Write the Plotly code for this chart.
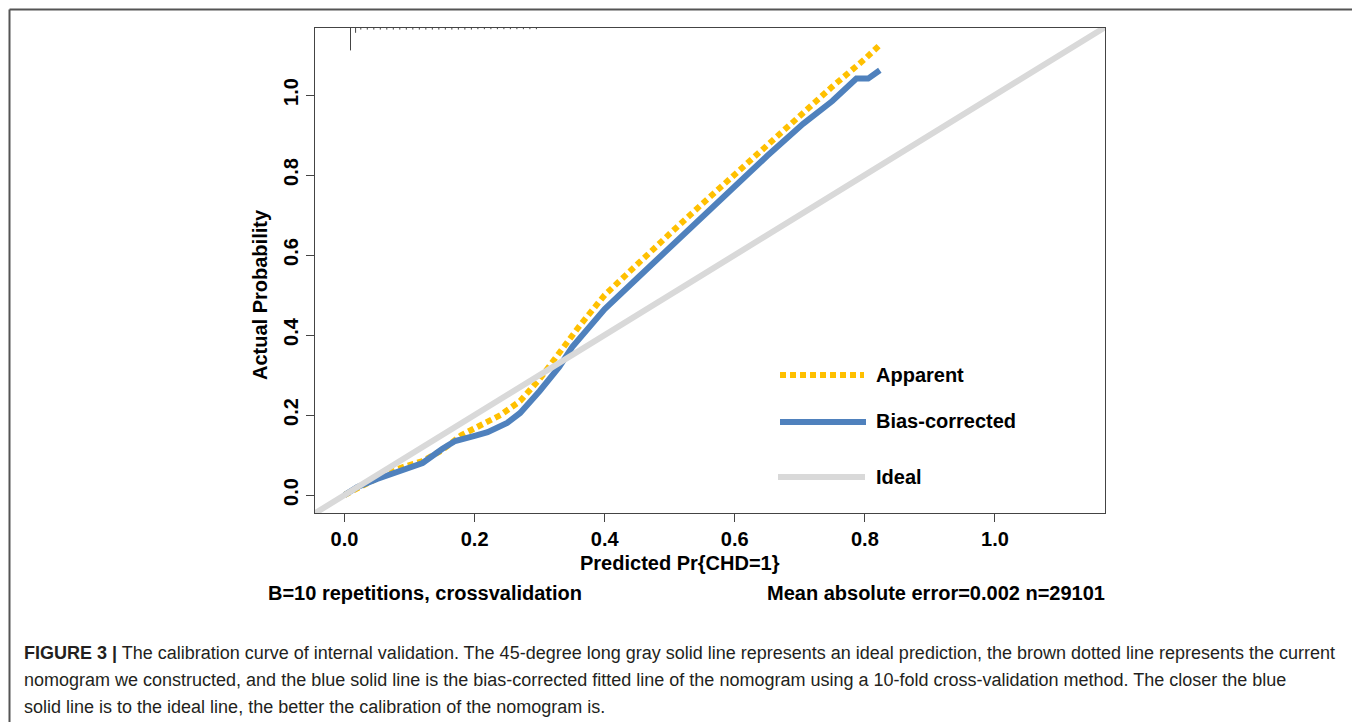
import plotly.graph_objects as go

# ---- data ----
apparent_x = [0.0, 0.03, 0.06, 0.09, 0.12, 0.15, 0.18, 0.21, 0.24, 0.27, 0.30, 0.33, 0.36,
              0.40, 0.45, 0.50, 0.55, 0.60, 0.65, 0.70, 0.75, 0.80, 0.823]
apparent_y = [0.0, 0.025, 0.05, 0.07, 0.085, 0.112, 0.15, 0.175, 0.2, 0.235, 0.29, 0.355, 0.42,
              0.5, 0.578, 0.653, 0.728, 0.802, 0.876, 0.95, 1.021, 1.09, 1.125]

bias_x = [0.0, 0.02, 0.05, 0.08, 0.10, 0.12, 0.15, 0.17, 0.20, 0.22, 0.25, 0.27, 0.30, 0.33,
          0.35, 0.40, 0.45, 0.50, 0.55, 0.60, 0.65, 0.705, 0.72, 0.75, 0.787, 0.805, 0.823]
bias_y = [0.0, 0.02, 0.04, 0.058, 0.068, 0.08, 0.115, 0.135, 0.148, 0.157, 0.18, 0.205, 0.26,
          0.32, 0.37, 0.465, 0.542, 0.619, 0.695, 0.772, 0.848, 0.928, 0.946, 0.985, 1.041, 1.041, 1.062]

ideal_x = [-0.1, 1.3]
ideal_y = [-0.1, 1.3]

# histogram of predicted values (rug at top): positions and tick lengths
rug_x = [0.0092, 0.017, 0.025, 0.035, 0.045, 0.055, 0.065, 0.075, 0.085, 0.095, 0.105,
         0.115, 0.125, 0.135, 0.145, 0.155, 0.165, 0.175, 0.185, 0.195, 0.205, 0.215,
         0.225, 0.235, 0.245, 0.255, 0.265, 0.275, 0.285, 0.295]
rug_h = [0.056, 0.012, 0.004, 0.004, 0.004, 0.004, 0.004, 0.004, 0.004, 0.004, 0.004,
         0.004, 0.004, 0.004, 0.004, 0.004, 0.004, 0.004, 0.004, 0.004, 0.003, 0.003,
         0.003, 0.003, 0.003, 0.003, 0.003, 0.003, 0.003, 0.003]

x_ticks = [0.0, 0.2, 0.4, 0.6, 0.8, 1.0]
y_ticks = [0.0, 0.2, 0.4, 0.6, 0.8, 1.0]
tick_labels = ["0.0", "0.2", "0.4", "0.6", "0.8", "1.0"]

legend_names = ["Apparent", "Bias-corrected", "Ideal"]

X_RANGE = [-0.0454, 1.1692]
Y_RANGE = [-0.045, 1.1675]

ORANGE = "#FFC000"
BLUE = "#4F81BD"
GRAY = "#D9D9D9"
W, H = 1360, 722
OFF = 8  # page body margin
FONT = "Liberation Sans, Arial, sans-serif"


def px(x):
    return (x - OFF) / W


def py(y):
    return 1 - (y - OFF) / H


fig = go.Figure()

fig.add_trace(go.Scatter(x=apparent_x, y=apparent_y, mode="lines",
                         line=dict(color=ORANGE, width=6, dash="6px,4px"),
                         name=legend_names[0], showlegend=False))
fig.add_trace(go.Scatter(x=bias_x, y=bias_y, mode="lines",
                         line=dict(color=BLUE, width=6),
                         name=legend_names[1], showlegend=False))
fig.add_trace(go.Scatter(x=ideal_x, y=ideal_y, mode="lines",
                         line=dict(color=GRAY, width=6),
                         name=legend_names[2], showlegend=False))

top = Y_RANGE[1]
rx, ry = [], []
for xv, hv in zip(rug_x, rug_h):
    rx += [xv, xv, None]
    ry += [top, top - hv, None]
fig.add_trace(go.Scatter(x=rx, y=ry, mode="lines", line=dict(color="#444", width=1),
                         showlegend=False, hoverinfo="skip"))

tickfont = dict(family=FONT, size=20, color="#000", weight="bold")

fig.update_layout(
    width=W, height=H,
    margin=dict(l=0, r=0, t=0, b=0),
    paper_bgcolor="white", plot_bgcolor="white",
    showlegend=False,
    xaxis=dict(domain=[px(315), px(1105)], range=X_RANGE, tickvals=x_ticks, ticktext=tick_labels,
               ticks="outside", ticklen=8, tickwidth=1, tickcolor="#444",
               showline=True, linecolor="#444", linewidth=1, mirror=True,
               showgrid=False, zeroline=False, tickfont=tickfont),
    yaxis=dict(domain=[py(513), py(28)], range=Y_RANGE, tickvals=y_ticks, ticktext=tick_labels,
               ticks="outside", ticklen=8, tickwidth=1, tickcolor="#444", tickangle=-90,
               showline=True, linecolor="#444", linewidth=1, mirror=True,
               showgrid=False, zeroline=False, tickfont=tickfont),
)

shapes = []
# outer figure frame (left, top, right)
frame = dict(color="#555", width=2)
shapes.append(dict(type="line", xref="paper", yref="paper", x0=px(9.5), x1=px(9.5),
                   y0=0, y1=py(9.5), line=frame))
shapes.append(dict(type="line", xref="paper", yref="paper", x0=px(9.5), x1=px(1355),
                   y0=py(9.5), y1=py(9.5), line=frame))
shapes.append(dict(type="line", xref="paper", yref="paper", x0=px(1355), x1=px(1355),
                   y0=0, y1=py(9.5), line=frame))
# legend samples
shapes.append(dict(type="line", xref="paper", yref="paper", x0=px(780), x1=px(864),
                   y0=py(375), y1=py(375), line=dict(color=ORANGE, width=6, dash="6px,4px")))
shapes.append(dict(type="line", xref="paper", yref="paper", x0=px(780), x1=px(866),
                   y0=py(422), y1=py(422), line=dict(color=BLUE, width=6)))
shapes.append(dict(type="line", xref="paper", yref="paper", x0=px(778), x1=px(865),
                   y0=py(477), y1=py(477), line=dict(color=GRAY, width=6)))
fig.update_layout(shapes=shapes)

bold = dict(family=FONT, size=20, color="#000", weight="bold")
ann = []
for name, yy in zip(legend_names, [375, 421, 477]):
    ann.append(dict(text=name, xref="paper", yref="paper", x=px(874), y=py(yy),
                    xanchor="left", yanchor="middle", showarrow=False, font=bold))
ann.append(dict(text="Predicted Pr{CHD=1}", xref="paper", yref="paper", x=px(680), y=py(563),
                xanchor="center", yanchor="middle", showarrow=False, font=bold))
ann.append(dict(text="Actual Probability", xref="paper", yref="paper", x=px(260), y=py(295),
                xanchor="center", yanchor="middle", showarrow=False, font=bold, textangle=-90))
ann.append(dict(text="B=10 repetitions, crossvalidation", xref="paper", yref="paper",
                x=px(266), y=py(593), xanchor="left", yanchor="middle", showarrow=False, font=bold))
ann.append(dict(text="Mean absolute error=0.002 n=29101", xref="paper", yref="paper",
                x=px(1107), y=py(593), xanchor="right", yanchor="middle", showarrow=False, font=bold))

cap_font = dict(family=FONT, size=18, color="#231F20")
caption_lines = [
    "<b>FIGURE 3 |</b> The calibration curve of internal validation. The 45-degree long gray solid line represents an ideal prediction, the brown dotted line represents the current",
    "nomogram we constructed, and the blue solid line is the bias-corrected fitted line of the nomogram using a 10-fold cross-validation method. The closer the blue",
    "solid line is to the ideal line, the better the calibration of the nomogram is.",
]
for line, yy in zip(caption_lines, [653, 680, 707]):
    ann.append(dict(text=line, xref="paper", yref="paper", x=px(22), y=py(yy),
                    xanchor="left", yanchor="middle", showarrow=False, font=cap_font))
fig.update_layout(annotations=ann)

fig.write_html("out.html")
